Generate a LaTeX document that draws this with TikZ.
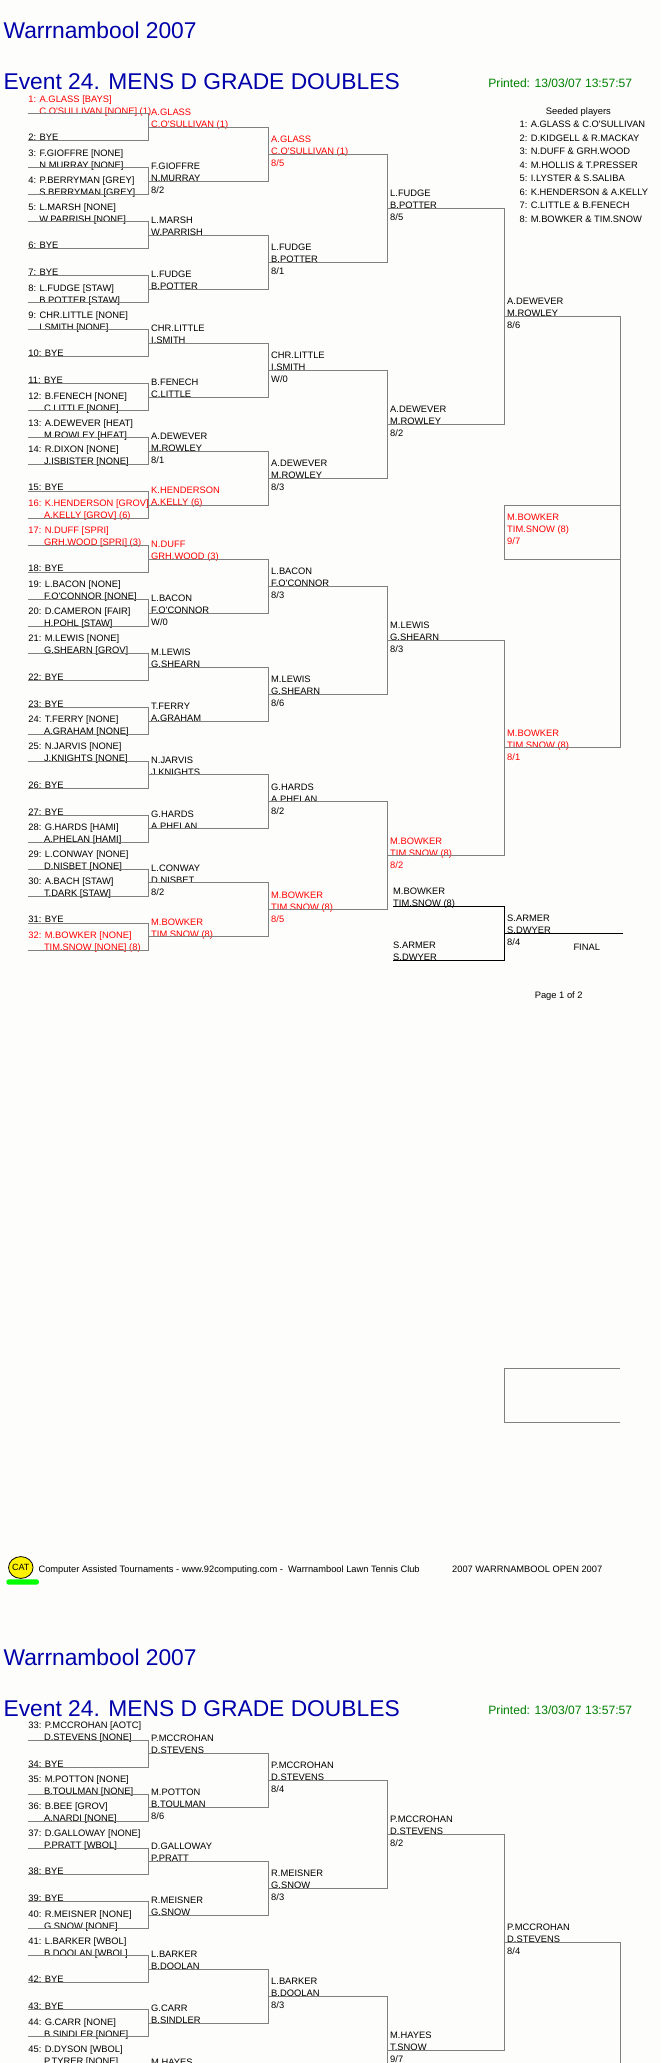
\documentclass[tikz,border=0pt]{standalone}
\usepackage{fontspec}
\usetikzlibrary{shapes.geometric}
\newfontfamily\pf{Liberation Sans}
\definecolor{bgc}{HTML}{FDFEFC}
\definecolor{ttl}{HTML}{0000AA}
\definecolor{grn}{HTML}{008000}
\definecolor{redt}{HTML}{FF0000}
\definecolor{lnc}{HTML}{808080}
\newcounter{nn}
\tikzset{
  lbl/.style={anchor=base west,inner sep=0pt,font=\pf\fontsize{9.35}{10}\selectfont},
  big/.style={anchor=base west,inner sep=0pt,text=ttl,font=\pf\fontsize{22.8}{24}\selectfont},
  foot/.style={anchor=base west,inner sep=0pt,font=\pf\fontsize{9.3}{10}\selectfont},
  ln/.style={draw=lnc,line width=1pt},
  fin/.style={draw=black,line width=1.2pt}
}
% text node: [colour]{x}{centre y}{text}
\newcommand\Tx[4][black]{\stepcounter{nn}\node[lbl,text=#1] (t\arabic{nn}) at (#2,{#3+3.5}) {#4};}
% draw slot: [colour]{indent x}{first}{second}{y}
\newcommand\Sl[5][black]{\Tx[#1]{28.2}{#5}{#3}\Tx[#1]{#2}{#5+12}{#4}}
% winner: [colour]{x}{y}{l1}{l2}{score}
\newcommand\Wn[6][black]{\Tx[#1]{#2}{#3}{#4}\Tx[#1]{#2}{#3+12}{#5}\Tx[#1]{#2}{#3+24}{#6}}
\newcommand\Wt[5][black]{\Tx[#1]{#2}{#3}{#4}\Tx[#1]{#2}{#3+12}{#5}}
% bracket connector: [style]{name}{x1}{x2}{ya}{yb}
\newcommand\Bk[6][ln]{%
  \coordinate (#2-a) at (#3,#5);\coordinate (#2-b) at (#3,#6);
  \coordinate (#2-c) at (#4,#5);\coordinate (#2-d) at (#4,#6);
  \draw[#1,line join=miter] (#2-a) -- (#2-c) -- (#2-d) -- (#2-b);}
\begin{document}
\begin{tikzpicture}[x=1pt,y=-1pt]
\useasboundingbox (0,0) rectangle (661,2063);
\fill[bgc] (0,0) rectangle (661,2063);
\clip (0,0) rectangle (661,2063);
\def\xa{28}\def\xb{148.4}\def\xc{268.5}\def\xd{387.4}\def\xe{504.6}\def\xf{620.6}
\def\ia{39.2}\def\ib{43.8}\def\ra{151}\def\rb{271}\def\rc{390}\def\rd{507}
% ---------- headings page 1
\node[big] (h1) at (3.4,38.3) {Warrnambool 2007};
\node[big] (h2) at (3.4,89.3) {Event 24. MENS D GRADE DOUBLES};
\node[anchor=base west,inner sep=0pt,text=grn,font=\pf\fontsize{12.1}{13}\selectfont] (h3) at (488.2,88) {Printed: 13/03/07 13:57:57};
% seeds
\node[lbl,anchor=base] (sd) at (578.4,114.5) {Seeded players};
\Tx{519.4}{123.7}{1: A.GLASS \& C.O'SULLIVAN}
\Tx{519.4}{137.7}{2: D.KIDGELL \& R.MACKAY}
\Tx{519.4}{150.7}{3: N.DUFF \& GRH.WOOD}
\Tx{519.4}{164.7}{4: M.HOLLIS \& T.PRESSER}
\Tx{519.4}{177.7}{5: I.LYSTER \& S.SALIBA}
\Tx{519.4}{191.7}{6: K.HENDERSON \& A.KELLY}
\Tx{519.4}{204.7}{7: C.LITTLE \& B.FENECH}
\Tx{519.4}{218.7}{8: M.BOWKER \& TIM.SNOW}
% ---------- round 1 text page 1
\Sl[redt]{\ia}{1: A.GLASS [BAYS]}{C.O'SULLIVAN [NONE] (1)}{98.7}
\Tx{28.2}{137.3}{2: BYE}
\Sl{\ia}{3: F.GIOFFRE [NONE]}{N.MURRAY [NONE]}{152.7}
\Sl{\ia}{4: P.BERRYMAN [GREY]}{S.BERRYMAN [GREY]}{179.7}
\Sl{\ia}{5: L.MARSH [NONE]}{W.PARRISH [NONE]}{206.7}
\Tx{28.2}{245.3}{6: BYE}
\Tx{28.2}{272.3}{7: BYE}
\Sl{\ia}{8: L.FUDGE [STAW]}{B.POTTER [STAW]}{287.7}
\Sl{\ia}{9: CHR.LITTLE [NONE]}{I.SMITH [NONE]}{314.7}
\Tx{28.2}{353.3}{10: BYE}
\Tx{28.2}{380.3}{11: BYE}
\Sl{\ib}{12: B.FENECH [NONE]}{C.LITTLE [NONE]}{395.7}
\Sl{\ib}{13: A.DEWEVER [HEAT]}{M.ROWLEY [HEAT]}{422.7}
\Sl{\ib}{14: R.DIXON [NONE]}{J.ISBISTER [NONE]}{448.7}
\Tx{28.2}{487.3}{15: BYE}
\Sl[redt]{\ib}{16: K.HENDERSON [GROV]}{A.KELLY [GROV] (6)}{502.7}
\Sl[redt]{\ib}{17: N.DUFF [SPRI]}{GRH.WOOD [SPRI] (3)}{529.7}
\Tx{28.2}{568.3}{18: BYE}
\Sl{\ib}{19: L.BACON [NONE]}{F.O'CONNOR [NONE]}{583.7}
\Sl{\ib}{20: D.CAMERON [FAIR]}{H.POHL [STAW]}{610.7}
\Sl{\ib}{21: M.LEWIS [NONE]}{G.SHEARN [GROV]}{637.7}
\Tx{28.2}{676.7}{22: BYE}
\Tx{28.2}{703.7}{23: BYE}
\Sl{\ib}{24: T.FERRY [NONE]}{A.GRAHAM [NONE]}{718.7}
\Sl{\ib}{25: N.JARVIS [NONE]}{J.KNIGHTS [NONE]}{745.7}
\Tx{28.2}{784.7}{26: BYE}
\Tx{28.2}{811.7}{27: BYE}
\Sl{\ib}{28: G.HARDS [HAMI]}{A.PHELAN [HAMI]}{826.7}
\Sl{\ib}{29: L.CONWAY [NONE]}{D.NISBET [NONE]}{853.7}
\Sl{\ib}{30: A.BACH [STAW]}{T.DARK [STAW]}{880.7}
\Tx{28.2}{919.3}{31: BYE}
\Sl[redt]{\ib}{32: M.BOWKER [NONE]}{TIM.SNOW [NONE] (8)}{934.7}
% ---------- round 2 text
\Wt[redt]{\ra}{111.7}{A.GLASS}{C.O'SULLIVAN (1)}
\Wn{\ra}{165.7}{F.GIOFFRE}{N.MURRAY}{8/2}
\Wt{\ra}{219.7}{L.MARSH}{W.PARRISH}
\Wt{\ra}{273.7}{L.FUDGE}{B.POTTER}
\Wt{\ra}{327.7}{CHR.LITTLE}{I.SMITH}
\Wt{\ra}{381.7}{B.FENECH}{C.LITTLE}
\Wn{\ra}{435.7}{A.DEWEVER}{M.ROWLEY}{8/1}
\Wt[redt]{\ra}{489.7}{K.HENDERSON}{A.KELLY (6)}
\Wt[redt]{\ra}{543.7}{N.DUFF}{GRH.WOOD (3)}
\Wn{\ra}{597.7}{L.BACON}{F.O'CONNOR}{W/0}
\Wt{\ra}{651.7}{M.LEWIS}{G.SHEARN}
\Wt{\ra}{705.7}{T.FERRY}{A.GRAHAM}
\Wt{\ra}{759.7}{N.JARVIS}{J.KNIGHTS}
\Wt{\ra}{813.7}{G.HARDS}{A.PHELAN}
\Wn{\ra}{867.7}{L.CONWAY}{D.NISBET}{8/2}
\Wt[redt]{\ra}{921.7}{M.BOWKER}{TIM.SNOW (8)}
% ---------- round 3 text
\Wn[redt]{\rb}{138.7}{A.GLASS}{C.O'SULLIVAN (1)}{8/5}
\Wn{\rb}{246.7}{L.FUDGE}{B.POTTER}{8/1}
\Wn{\rb}{354.7}{CHR.LITTLE}{I.SMITH}{W/0}
\Wn{\rb}{462.7}{A.DEWEVER}{M.ROWLEY}{8/3}
\Wn{\rb}{570.7}{L.BACON}{F.O'CONNOR}{8/3}
\Wn{\rb}{678.7}{M.LEWIS}{G.SHEARN}{8/6}
\Wn{\rb}{786.7}{G.HARDS}{A.PHELAN}{8/2}
\Wn[redt]{\rb}{894.7}{M.BOWKER}{TIM.SNOW (8)}{8/5}
% ---------- round 4 text
\Wn{\rc}{192.7}{L.FUDGE}{B.POTTER}{8/5}
\Wn{\rc}{408.7}{A.DEWEVER}{M.ROWLEY}{8/2}
\Wn{\rc}{624.7}{M.LEWIS}{G.SHEARN}{8/3}
\Wn[redt]{\rc}{840.7}{M.BOWKER}{TIM.SNOW (8)}{8/2}
% ---------- round 5 text
\Wn{\rd}{300.7}{A.DEWEVER}{M.ROWLEY}{8/6}
\Wn[redt]{\rd}{732.7}{M.BOWKER}{TIM.SNOW (8)}{8/1}
\Wn[redt]{\rd}{516.7}{M.BOWKER}{TIM.SNOW (8)}{9/7}
% ---------- final
\Wt{393}{890.7}{M.BOWKER}{TIM.SNOW (8)}
\Wt{393}{944.7}{S.ARMER}{S.DWYER}
\Wn{\rd}{917.7}{S.ARMER}{S.DWYER}{8/4}
\Tx{573.3}{946.7}{FINAL}
\Tx{534.6}{994.7}{Page 1 of 2}
% ---------- connectors page 1
\foreach \n/\u/\v in {a/113.3/140.3,b/167.3/194.3,c/221.3/248.3,d/275.3/302.3,e/329.3/356.3,f/383.3/410.3,g/437.3/464.3,h/491.3/518.3,i/545.3/572.3,j/599.3/626.3,k/653.3/680.3,l/707.3/734.3,m/761.3/788.3,n/815.3/842.3,o/869.3/896.3,p/923.3/950.3}{\Bk{ra\n}{\xa}{\xb}{\u}{\v}}
\foreach \n/\u/\v in {a/127.3/181.3,b/235.3/289.3,c/343.3/397.3,d/451.3/505.3,e/559.3/613.3,f/667.3/721.3,g/774.3/828.3,h/882.3/936.3}{\Bk{rb\n}{\xb}{\xc}{\u}{\v}}
\foreach \n/\u/\v in {a/154.3/262.3,b/370.3/478.3,c/586.3/694.3,d/801.3/909.3}{\Bk{rc\n}{\xc}{\xd}{\u}{\v}}
\Bk{rda}{\xd}{\xe}{208.3}{424.3}
\Bk{rdb}{\xd}{\xe}{640.3}{855.3}
\Bk{rea}{\xe}{\xf}{316.3}{747.3}
\Bk{boxa}{\xf}{\xe}{505.3}{559.3}
\Bk{boxb}{620}{504.3}{1368.7}{1422.3}
\Bk[fin]{fina}{392.9}{\xe}{906.3}{960.3}
\coordinate (finl) at (\xe,933.3);\coordinate (finr) at (623,933.3);
\draw[fin] (finl) -- (finr);
% ---------- footer
\node[draw=black,fill=yellow,line width=0.8pt,ellipse,minimum width=20.5pt,minimum height=21.8pt,inner sep=0pt,font=\pf\fontsize{9}{10}\selectfont] (logo) at (20.8,1567.5) {CAT};
\fill[green] (6.3,1579.3) [rounded corners=2.5pt] rectangle (39,1584.7);
\node[foot] (f1) at (38.4,1572.3) {Computer Assisted Tournaments - www.92computing.com -\ \ Warrnambool Lawn Tennis Club};
\node[foot] (f2) at (452,1572.3) {2007 WARRNAMBOOL OPEN 2007};
% ---------- headings page 2
\node[big] (h4) at (3.4,1665) {Warrnambool 2007};
\node[big] (h5) at (3.4,1716.3) {Event 24. MENS D GRADE DOUBLES};
\node[anchor=base west,inner sep=0pt,text=grn,font=\pf\fontsize{12.1}{13}\selectfont] (h6) at (488.2,1714.7) {Printed: 13/03/07 13:57:57};
% ---------- round 1 text page 2
\Sl{\ib}{33: P.MCCROHAN [AOTC]}{D.STEVENS [NONE]}{1724.7}
\Tx{28.2}{1763.7}{34: BYE}
\Sl{\ib}{35: M.POTTON [NONE]}{B.TOULMAN [NONE]}{1778.7}
\Sl{\ib}{36: B.BEE [GROV]}{A.NARDI [NONE]}{1805.7}
\Sl{\ib}{37: D.GALLOWAY [NONE]}{P.PRATT [WBOL]}{1832.7}
\Tx{28.2}{1871.3}{38: BYE}
\Tx{28.2}{1898.3}{39: BYE}
\Sl{\ib}{40: R.MEISNER [NONE]}{G.SNOW [NONE]}{1913.7}
\Sl{\ib}{41: L.BARKER [WBOL]}{B.DOOLAN [WBOL]}{1940.7}
\Tx{28.2}{1979.3}{42: BYE}
\Tx{28.2}{2006.3}{43: BYE}
\Sl{\ib}{44: G.CARR [NONE]}{B.SINDLER [NONE]}{2021.7}
\Sl{\ib}{45: D.DYSON [WBOL]}{P.TYRER [NONE]}{2048.7}
\Wt{\ra}{1737.7}{P.MCCROHAN}{D.STEVENS}
\Wn{\ra}{1791.7}{M.POTTON}{B.TOULMAN}{8/6}
\Wt{\ra}{1845.7}{D.GALLOWAY}{P.PRATT}
\Wt{\ra}{1899.7}{R.MEISNER}{G.SNOW}
\Wt{\ra}{1953.7}{L.BARKER}{B.DOOLAN}
\Wt{\ra}{2007.7}{G.CARR}{B.SINDLER}
\Tx{\ra}{2061.7}{M.HAYES}
\Wn{\rb}{1764.7}{P.MCCROHAN}{D.STEVENS}{8/4}
\Wn{\rb}{1872.7}{R.MEISNER}{G.SNOW}{8/3}
\Wn{\rb}{1980.7}{L.BARKER}{B.DOOLAN}{8/3}
\Wn{\rc}{1818.7}{P.MCCROHAN}{D.STEVENS}{8/2}
\Wn{\rc}{2034.7}{M.HAYES}{T.SNOW}{9/7}
\Wn{\rd}{1926.7}{P.MCCROHAN}{D.STEVENS}{8/4}
% ---------- connectors page 2
\foreach \n/\u/\v in {a/1740.3/1767.3,b/1794.3/1821.3,c/1848.3/1874.3,d/1901.3/1928.3,e/1955.3/1982.3,f/2009.3/2036.3}{\Bk{sa\n}{\xa}{\xb}{\u}{\v}}
\foreach \n/\u/\v in {a/1753.3/1807.3,b/1861.3/1915.3,c/1969.3/2023.3}{\Bk{sb\n}{\xb}{\xc}{\u}{\v}}
\Bk{sca}{\xc}{\xd}{1780.3}{1888.3}
\coordinate (scb-a) at (\xc,1996.3);\coordinate (scb-c) at (\xd,1996.3);\coordinate (scb-d) at (\xd,2063);
\draw[ln] (scb-a) -- (scb-c) -- (scb-d);
\Bk{sda}{\xd}{\xe}{1834.3}{2050.3}
\coordinate (sea-a) at (\xe,1942.3);\coordinate (sea-c) at (\xf,1942.3);\coordinate (sea-d) at (\xf,2063);
\draw[ln] (sea-a) -- (sea-c) -- (sea-d);
\end{tikzpicture}
\end{document}
